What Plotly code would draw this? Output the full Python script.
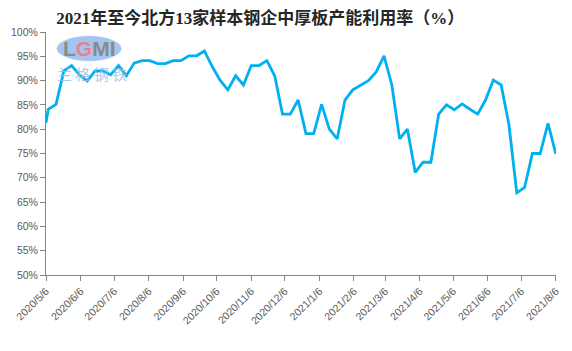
import plotly.graph_objects as go

dates = [
    "2020-05-06",
    "2020-05-08", "2020-05-15", "2020-05-22", "2020-05-29", "2020-06-05", "2020-06-12",
    "2020-06-19", "2020-06-26", "2020-07-03", "2020-07-10", "2020-07-17", "2020-07-24",
    "2020-07-31", "2020-08-07", "2020-08-14", "2020-08-21", "2020-08-28", "2020-09-04",
    "2020-09-11", "2020-09-18", "2020-09-25", "2020-10-02", "2020-10-09", "2020-10-16",
    "2020-10-23", "2020-10-30", "2020-11-06", "2020-11-13", "2020-11-20", "2020-11-27",
    "2020-12-04", "2020-12-11", "2020-12-18", "2020-12-25",
    "2021-01-01", "2021-01-08", "2021-01-15", "2021-01-22", "2021-01-29", "2021-02-05",
    "2021-02-12", "2021-02-19", "2021-02-26", "2021-03-05", "2021-03-12", "2021-03-19",
    "2021-03-26", "2021-04-02", "2021-04-09", "2021-04-16", "2021-04-23", "2021-04-30",
    "2021-05-07", "2021-05-14", "2021-05-21", "2021-05-28", "2021-06-04", "2021-06-11",
    "2021-06-18", "2021-06-25", "2021-07-02", "2021-07-09", "2021-07-16", "2021-07-23",
    "2021-07-30", "2021-08-06",
]

utilization = [
    81.3,
    84.1, 85.1, 92.0, 93.1, 91.2, 89.9, 92.0, 92.0, 91.2, 93.1, 91.0, 93.6,
    94.1, 94.1, 93.5, 93.5, 94.1, 94.1, 95.1, 95.1, 96.1, 92.9, 90.1, 88.1,
    91.0, 89.1, 93.1, 93.1, 94.1, 91.0, 83.1, 83.1, 86.0, 79.1,
    79.1, 85.1, 80.0, 78.0, 86.0, 88.1, 89.1, 90.0, 91.8, 95.1, 89.1, 78.0,
    80.0, 71.1, 73.2, 73.2, 83.1, 85.0, 84.0, 85.2, 84.1, 83.1, 86.0, 90.1,
    89.1, 80.9, 66.9, 68.0, 75.0, 75.0, 81.2, 74.9,
]

title_text = "2021年至今北方13家样本钢企中厚板产能利用率（%）"

fig = go.Figure()
fig.add_trace(go.Scatter(
    x=dates, y=utilization, mode="lines",
    line=dict(color="#00B0F0", width=2.8),
    hoverinfo="x+y", showlegend=False,
))

axis_color = "#868686"
label_font = dict(family="Liberation Sans, Noto Sans CJK SC, sans-serif", size=10.5, color="#595959")

fig.update_layout(
    width=572, height=351,
    margin=dict(l=40, r=11, t=32, b=76),
    paper_bgcolor="white", plot_bgcolor="white",
    title=dict(
        text="<b>" + title_text + "</b>",
        x=0.455, xanchor="center", y=0.95, yanchor="middle",
        font=dict(family="Liberation Serif, Noto Sans CJK SC, serif", size=17, color="#262626"),
    ),
    xaxis=dict(
        type="date",
        range=["2020-05-06", "2021-08-06 04:00"],
        tick0="2020-05-06", dtick="M1", tickformat="%Y/%-m/%-d",
        tickangle=-45, ticks="outside", ticklen=5, tickcolor=axis_color,
        showline=True, linecolor=axis_color, linewidth=1,
        showgrid=False, zeroline=False, tickfont=label_font,
    ),
    yaxis=dict(
        range=[50, 100], dtick=5, ticksuffix="%",
        ticks="outside", ticklen=5, tickcolor=axis_color,
        showline=True, linecolor=axis_color, linewidth=1,
        showgrid=False, zeroline=False, tickfont=label_font,
    ),
)

# watermark logo (approximation)
fig.add_shape(
    type="circle", xref="paper", yref="paper",
    x0=(50 - 40) / 521, x1=(118 - 40) / 521,
    y0=(275 - 62) / 243, y1=(275 - 35) / 243,
    fillcolor="rgba(100,160,230,0.6)", line=dict(color="rgba(255,255,255,0.9)", width=2),
    layer="below",
)
fig.add_annotation(
    xref="paper", yref="paper", x=(84 - 40) / 521, y=(275 - 48) / 243,
    text="<b>L<span style='color:#ee7f93'>G</span>MI</b>", showarrow=False,
    font=dict(family="Liberation Sans, sans-serif", size=21, color="#8a8a8a"),
    xanchor="center", yanchor="middle",
)
fig.add_annotation(
    xref="paper", yref="paper", x=(87 - 40) / 521, y=(275 - 73) / 243,
    text="兰 格 钢 铁", showarrow=False,
    font=dict(family="Noto Sans CJK SC, sans-serif", size=15, color="rgba(150,190,235,0.85)"),
    xanchor="center", yanchor="middle",
)

fig.write_html("out.html")
